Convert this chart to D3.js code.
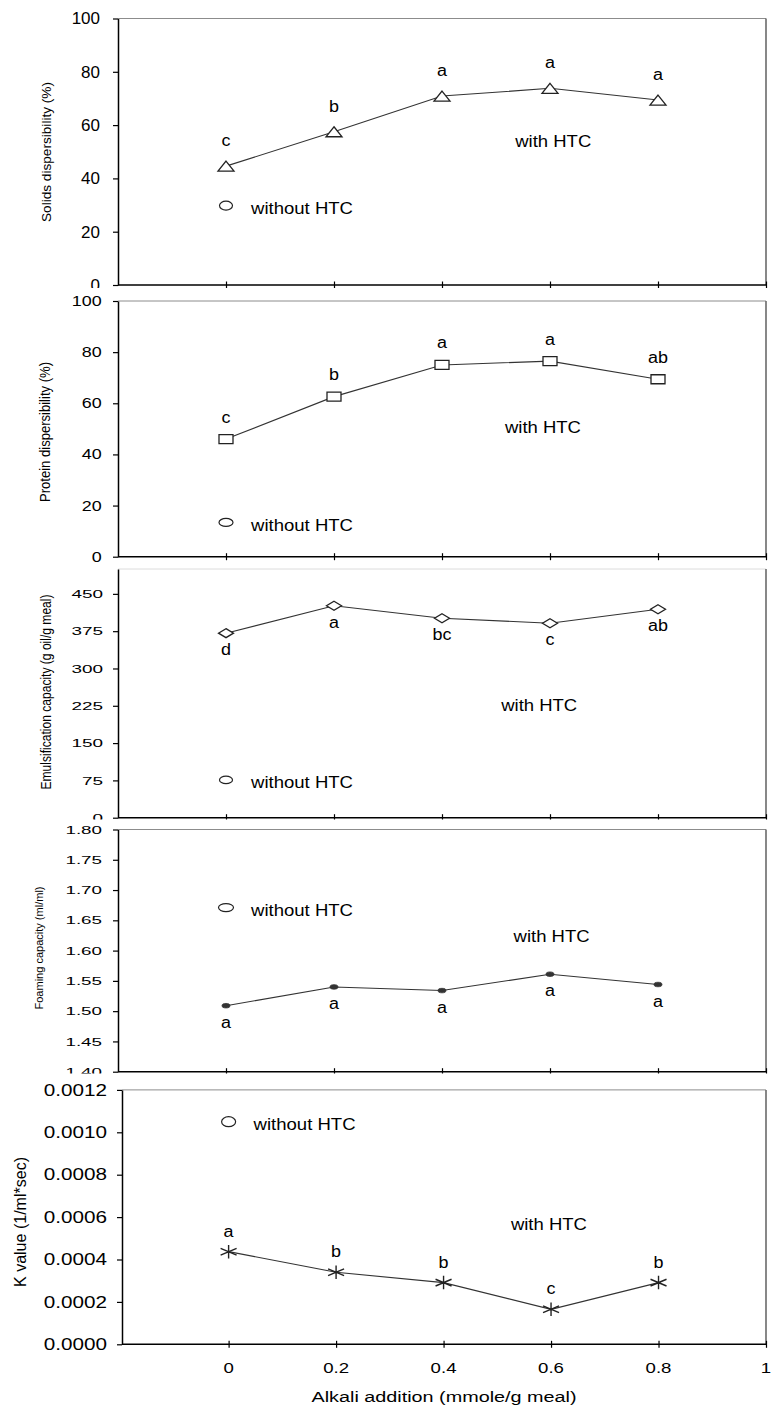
<!DOCTYPE html>
<html><head><meta charset="utf-8">
<script src="https://cdn.jsdelivr.net/npm/d3@7"></script>
<style>
body{margin:0;background:#fff}
svg{display:block}
text{font-family:"Liberation Sans",Arial,sans-serif;fill:#000}
</style>
</head><body>
<svg id="c" width="771" height="1408"></svg>
<script>
// ---------- data ----------
const alkali = [0, 0.2, 0.4, 0.6, 0.8];
const xTicks = [0, 0.2, 0.4, 0.6, 0.8, 1];
const xTickLabels = ["0", "0.2", "0.4", "0.6", "0.8", "1"];
const xTitle = "Alkali addition (mmole/g meal)";

const solidsWith = [44.6, 57.5, 70.9, 73.8, 69.4];
const solidsWithout = 29.8;
const solidsLetters = ["c", "b", "a", "a", "a"];
const solidsTicks = [0, 20, 40, 60, 80, 100];

const proteinWith = [46.0, 62.6, 75.0, 76.5, 69.4];
const proteinWithout = 13.4;
const proteinLetters = ["c", "b", "a", "a", "ab"];
const proteinTicks = [0, 20, 40, 60, 80, 100];

const emulsWith = [371, 426, 401, 391, 419];
const emulsWithout = 76;
const emulsLetters = ["d", "a", "bc", "c", "ab"];
const emulsTicks = [0, 75, 150, 225, 300, 375, 450];

const foamWith = [1.509, 1.540, 1.534, 1.561, 1.544];
const foamWithout = 1.671;
const foamLetters = ["a", "a", "a", "a", "a"];
const foamTicks = [1.40, 1.45, 1.50, 1.55, 1.60, 1.65, 1.70, 1.75, 1.80];

const kWith = [0.000437, 0.000340, 0.000291, 0.000165, 0.000291];
const kWithout = 0.00105;
const kLetters = ["a", "b", "b", "c", "b"];
const kTicks = [0, 0.0002, 0.0004, 0.0006, 0.0008, 0.0010, 0.0012];

const withLabel = "with HTC";
const withoutLabel = "without HTC";

// ---------- layout ----------
const W = 771, RIGHT = 766;
const panels = [
  {title:"Solids dispersibility  (%)", withV:solidsWith, withoutV:solidsWithout, letters:solidsLetters, ticks:solidsTicks, fmt:d3.format("d"),
   yDomain:[0,100], top:18.5, bottom:285, axisX:118, xStart:118, xDomain:[-0.2,1],
   tickFont:17, tickStretch:1.0, tickEnd:100, titleX:46.5, titleY:152, titleLen:140, titleFont:12.5,
   marker:d3.symbolTriangle, mw:16, mh:10, fill:"#fff", cw:13, ch:9, letterDy:-20, withPos:[0.606,54], coverTop:null, topColor:"#8c8c8c"},
  {title:"Protein dispersibility (%)", withV:proteinWith, withoutV:proteinWithout, letters:proteinLetters, ticks:proteinTicks, fmt:d3.format("d"),
   yDomain:[0,100], top:301, bottom:556.7, axisX:118, xStart:118, xDomain:[-0.2,1],
   tickFont:14, tickStretch:1.28, tickEnd:101.7, titleX:45, titleY:432, titleLen:140, titleFont:14,
   marker:d3.symbolSquare, mw:14, mh:9, fill:"#fff", cw:14, ch:8, letterDy:-16.5, withPos:[0.587,50.7], coverTop:288, topColor:"#8c8c8c"},
  {title:"Emulsification capacity (g oil/g meal)", withV:emulsWith, withoutV:emulsWithout, letters:emulsLetters, ticks:emulsTicks, fmt:d3.format("d"),
   yDomain:[0,500], top:569, bottom:817.7, axisX:118, xStart:118, xDomain:[-0.2,1],
   tickFont:11.6, tickStretch:1.63, tickEnd:103, titleX:46, titleY:692, titleLen:195, titleFont:14,
   marker:d3.symbolDiamond, mw:15, mh:9, fill:"#fff", cw:13, ch:7.5, letterDy:22, withPos:[0.58,225], coverTop:562, topColor:"#dcdcdc"},
  {title:"Foaming capacity (ml/ml)", withV:foamWith, withoutV:foamWithout, letters:foamLetters, ticks:foamTicks, fmt:d3.format(".2f"),
   yDomain:[1.4,1.8], top:829.5, bottom:1071.7, axisX:118, xStart:118, xDomain:[-0.2,1],
   tickFont:11.2, tickStretch:1.68, tickEnd:102, titleX:39, titleY:948, titleLen:123, titleFont:11,
   marker:d3.symbolCircle, mw:8, mh:4.5, fill:"#333", cw:15, ch:8, letterDy:22, withPos:[0.603,1.6225], coverTop:819.5, topColor:"#8c8c8c"},
  {title:"K value (1/ml*sec)", withV:kWith, withoutV:kWithout, letters:kLetters, ticks:kTicks, fmt:d3.format(".4f"),
   yDomain:[0,0.0012], top:1089.9, bottom:1344.3, axisX:122, xStart:148, xDomain:[-0.15,1],
   tickFont:16.3, tickStretch:1.27, tickEnd:107, titleX:20, titleY:1222, titleLen:130, titleFont:16,
   marker:d3.symbolAsterisk, mw:16, mh:13.5, fill:"none", cw:14, ch:10, letterDy:-15, withPos:[0.596,0.000563], coverTop:1073.5, topColor:"#8c8c8c", xLabels:true}
];

const svg = d3.select("#c");
svg.append("rect").attr("width",W).attr("height",1408).attr("fill","#fff");

function stretch(sel, s){
  sel.each(function(){
    const w = this.getComputedTextLength();
    this.setAttribute("textLength", (w*s).toFixed(2));
    this.setAttribute("lengthAdjust","spacingAndGlyphs");
  });
}
function marker(g, type, cx, cy, w, h){
  const p = g.append("path").attr("d", d3.symbol(type, 100)());
  const b = p.node().getBBox();
  p.attr("transform", `translate(${cx},${cy}) scale(${w/b.width},${h/b.height}) translate(${-(b.x+b.width/2)},${-(b.y+b.height/2)})`)
   .attr("vector-effect","non-scaling-stroke");
  return p;
}

panels.forEach(p => {
  const g = svg.append("g");
  if (p.coverTop != null) {
    g.append("rect").attr("x",0).attr("y",p.coverTop).attr("width",W).attr("height",p.bottom+6-p.coverTop).attr("fill","#fff");
  }
  const x = d3.scaleLinear().domain(p.xDomain).range([p.xStart, RIGHT]);
  const y = d3.scaleLinear().domain(p.yDomain).range([p.bottom, p.top]);

  // frame: top & right
  g.append("line").attr("x1",p.axisX).attr("x2",RIGHT).attr("y1",p.top).attr("y2",p.top)
    .attr("stroke",p.topColor).attr("stroke-width",1);
  g.append("line").attr("x1",RIGHT).attr("x2",RIGHT).attr("y1",p.top).attr("y2",p.bottom)
    .attr("stroke","#6a6a6a").attr("stroke-width",1.6);

  // y axis
  const ya = d3.axisLeft(y).tickValues(p.ticks).tickFormat(p.fmt).tickSize(5).tickSizeOuter(0)
    .tickPadding(p.axisX - 5 - p.tickEnd);
  const yg = g.append("g").attr("transform",`translate(${p.axisX},0)`).call(ya);
  yg.select(".domain").attr("stroke","#000").attr("stroke-width",1.5);
  yg.selectAll(".tick line").attr("stroke","#000").attr("stroke-width",1.2);
  const yt = yg.selectAll(".tick text").attr("font-size",p.tickFont).attr("fill","#000")
    .attr("font-family",'"Liberation Sans",Arial,sans-serif');
  stretch(yt, p.tickStretch);

  // x axis
  g.append("line").attr("x1",p.axisX).attr("x2",RIGHT+1).attr("y1",p.bottom).attr("y2",p.bottom)
    .attr("stroke","#000").attr("stroke-width",1.5);
  const xa = d3.axisBottom(x).tickValues(xTicks).tickSize(3).tickSizeOuter(0).tickFormat("");
  const xg = g.append("g").attr("transform",`translate(0,${p.bottom})`).call(xa);
  xg.select(".domain").remove();
  xg.selectAll(".tick line").attr("y1",-3.5).attr("y2",3.5).attr("stroke","#000").attr("stroke-width",1.2);
  if (p.xLabels) {
    const xl = g.selectAll("text.xl").data(xTicks).join("text").attr("class","xl")
      .attr("x", d => x(d)).attr("y", p.bottom + 24).attr("text-anchor","middle")
      .attr("dominant-baseline","central").attr("font-size",14)
      .text((d,i) => xTickLabels[i]);
    stretch(xl, 1.33);
    g.append("text").attr("x",444).attr("y",1396).attr("text-anchor","middle")
      .attr("dominant-baseline","central").attr("font-size",15.5)
      .attr("textLength",265).attr("lengthAdjust","spacingAndGlyphs").text(xTitle);
  }

  // y title
  g.append("text").attr("transform",`translate(${p.titleX},${p.titleY}) rotate(-90)`)
    .attr("text-anchor","middle").attr("dominant-baseline","central")
    .attr("font-size",p.titleFont).attr("textLength",p.titleLen).attr("lengthAdjust","spacingAndGlyphs")
    .text(p.title);

  // line
  const line = d3.line().x((d,i) => x(alkali[i])).y(d => y(d));
  g.append("path").datum(p.withV).attr("d",line).attr("fill","none").attr("stroke","#333").attr("stroke-width",1.1);

  // markers
  p.withV.forEach((v,i) => {
    const m = marker(g, p.marker, x(alkali[i]), y(v), p.mw, p.mh);
    if (p.marker === d3.symbolAsterisk) m.attr("fill","none").attr("stroke","#222").attr("stroke-width",1.4);
    else if (p.marker === d3.symbolCircle) m.attr("fill",p.fill).attr("stroke","#333").attr("stroke-width",0.8);
    else m.attr("fill",p.fill).attr("stroke","#222").attr("stroke-width",1.3);
  });

  // letters
  const lt = g.selectAll("text.lt").data(p.withV).join("text").attr("class","lt")
    .attr("x",(d,i) => x(alkali[i])).attr("y", d => y(d) + p.letterDy)
    .attr("text-anchor","middle").attr("font-size",16)
    .text((d,i) => p.letters[i]);
  stretch(lt, 1.12);

  // without HTC point
  marker(g, d3.symbolCircle, x(0), y(p.withoutV), p.cw, p.ch).attr("fill","#fff").attr("stroke","#222").attr("stroke-width",1.2);
  g.append("text").attr("x", x(0) + 25).attr("y", y(p.withoutV) + 3).attr("dominant-baseline","central")
    .attr("font-size",16).attr("textLength",102).attr("lengthAdjust","spacingAndGlyphs").text(withoutLabel);

  // with HTC label
  g.append("text").attr("x", x(p.withPos[0])).attr("y", y(p.withPos[1])).attr("dominant-baseline","central")
    .attr("text-anchor","middle").attr("font-size",16).attr("textLength",76).attr("lengthAdjust","spacingAndGlyphs").text(withLabel);
});
</script>
</body></html>
